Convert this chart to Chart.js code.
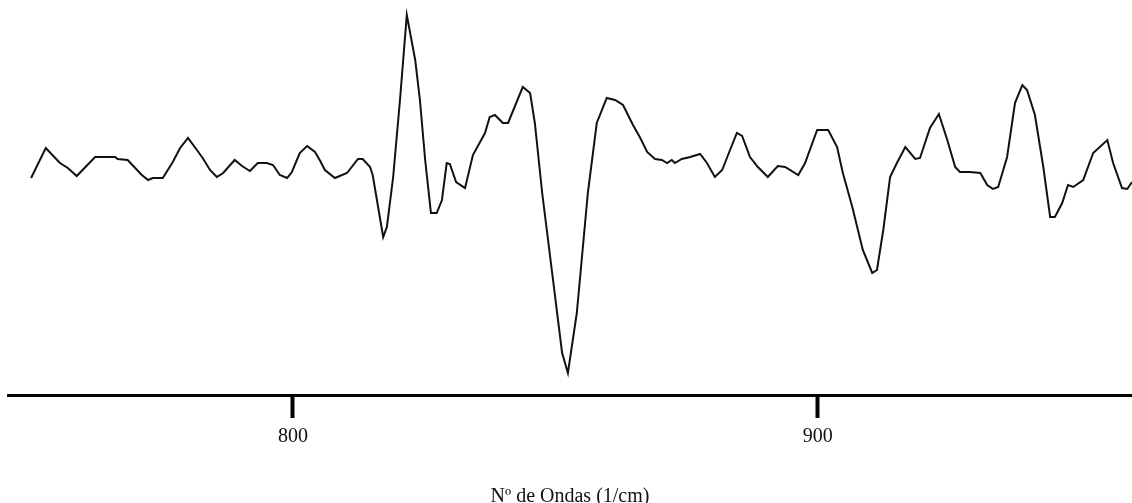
<!DOCTYPE html>
<html>
<head>
<meta charset="utf-8">
<script src="https://cdn.jsdelivr.net/npm/chart.js@4.4.1/dist/chart.umd.min.js"></script>
<style>
html,body{margin:0;padding:0;background:#fff;}
#wrap{width:1132px;height:503px;position:relative;}
</style>
</head>
<body>
<div id="wrap"><canvas id="c" width="1132" height="503"></canvas></div>
<script>
// Wavenumber (1/cm)
const wavenumbers = [
750.1,752.9,755.6,757.1,758.8,762.3,766.1,766.6,768.5,771.2,772.4,773.3,775.2,777.1,778.5,780.0,781.7,782.8,784.2,
785.5,786.7,788.9,790.3,791.8,793.3,795.0,796.2,797.5,798.9,799.8,801.3,802.7,804.2,805.1,806.1,808.0,810.3,812.4,813.3,
814.7,815.2,817.2,817.9,819.1,820.4,821.7,823.3,824.2,825.2,826.3,827.4,828.4,829.3,829.9,831.1,832.8,834.3,836.6,837.5,
838.5,840.0,841.0,843.8,845.2,846.1,847.5,849.4,851.3,852.4,854.1,856.2,857.9,859.8,861.4,862.9,864.8,866.1,867.5,869.0,
870.3,871.3,872.2,872.8,874.1,875.7,877.6,878.9,880.4,881.8,883.3,884.6,885.6,887.1,888.6,890.5,892.4,893.8,896.3,897.6,
899.9,902.0,903.7,904.8,906.6,908.6,910.4,911.3,912.5,913.8,915.1,916.7,918.6,919.5,921.4,923.1,924.7,926.2,927.1,929.0,
931.0,932.3,933.4,934.4,936.1,937.6,939.0,939.9,941.4,943.0,944.3,945.2,946.6,947.7,948.7,950.6,952.5,955.2,956.3,958.0,
959.0,959.9
];
// Signal (arbitrary units)
const signal = [
2.17,2.47,2.32,2.27,2.19,2.38,2.38,2.36,2.35,2.20,2.15,2.17,2.17,2.33,2.47,2.57,2.45,2.37,2.25,
2.18,2.22,2.35,2.29,2.24,2.32,2.32,2.30,2.20,2.17,2.23,2.42,2.49,2.43,2.35,2.25,2.17,2.22,2.36,2.36,
2.28,2.20,1.58,1.68,2.18,2.95,3.80,3.35,2.95,2.35,1.82,1.82,1.95,2.32,2.31,2.13,2.07,2.40,2.62,2.78,
2.80,2.72,2.72,3.08,3.02,2.72,2.02,1.22,0.42,0.22,0.82,2.02,2.72,2.97,2.95,2.90,2.70,2.58,2.43,2.36,
2.35,2.32,2.35,2.32,2.36,2.38,2.41,2.32,2.18,2.25,2.45,2.62,2.59,2.38,2.28,2.18,2.29,2.28,2.20,2.32,
2.65,2.65,2.48,2.22,1.88,1.45,1.22,1.25,1.65,2.18,2.32,2.48,2.36,2.37,2.67,2.81,2.55,2.28,2.23,2.23,
2.22,2.10,2.06,2.08,2.38,2.92,3.10,3.05,2.80,2.28,1.78,1.78,1.92,2.10,2.08,2.15,2.42,2.55,2.32,2.07,
2.06,2.13
];
const tickValues = [800, 900];
const tickLabels = ['800', '900'];
const axisTitle = 'Nº de Ondas (1/cm)';

const points = wavenumbers.map((x, i) => ({x: x, y: signal[i]}));

new Chart(document.getElementById('c'), {
  type: 'line',
  data: {
    datasets: [{
      data: points,
      borderColor: '#111',
      borderWidth: 2,
      pointRadius: 0,
      tension: 0,
      fill: false
    }]
  },
  options: {
    responsive: false,
    animation: false,
    events: [],
    layout: {padding: {left: 8, right: 0, top: 0, bottom: 0}},
    plugins: {legend: {display: false}, tooltip: {enabled: false}},
    scales: {
      x: {
        type: 'linear',
        min: 745.7,
        max: 959.9,
        afterBuildTicks: (scale) => { scale.ticks = tickValues.map(v => ({value: v})); },
        ticks: {
          autoSkip: false,
          maxRotation: 0,
          padding: 7,
          color: '#111',
          font: {family: '"Liberation Serif", "Times New Roman", serif', size: 20},
          callback: (v) => { const i = tickValues.indexOf(v); return i >= 0 ? tickLabels[i] : ''; }
        },
        grid: {
          display: true,
          drawOnChartArea: false,
          drawTicks: true,
          tickLength: 23,
          tickWidth: 4,
          tickColor: '#000'
        },
        border: {display: true, color: '#000', width: 3},
        title: {
          display: true,
          text: axisTitle,
          color: '#111',
          font: {family: '"Liberation Serif", "Times New Roman", serif', size: 20},
          padding: {top: 29, bottom: -6}
        }
      },
      y: {
        display: false,
        min: 0,
        max: 3.95
      }
    }
  }
});
</script>
</body>
</html>
